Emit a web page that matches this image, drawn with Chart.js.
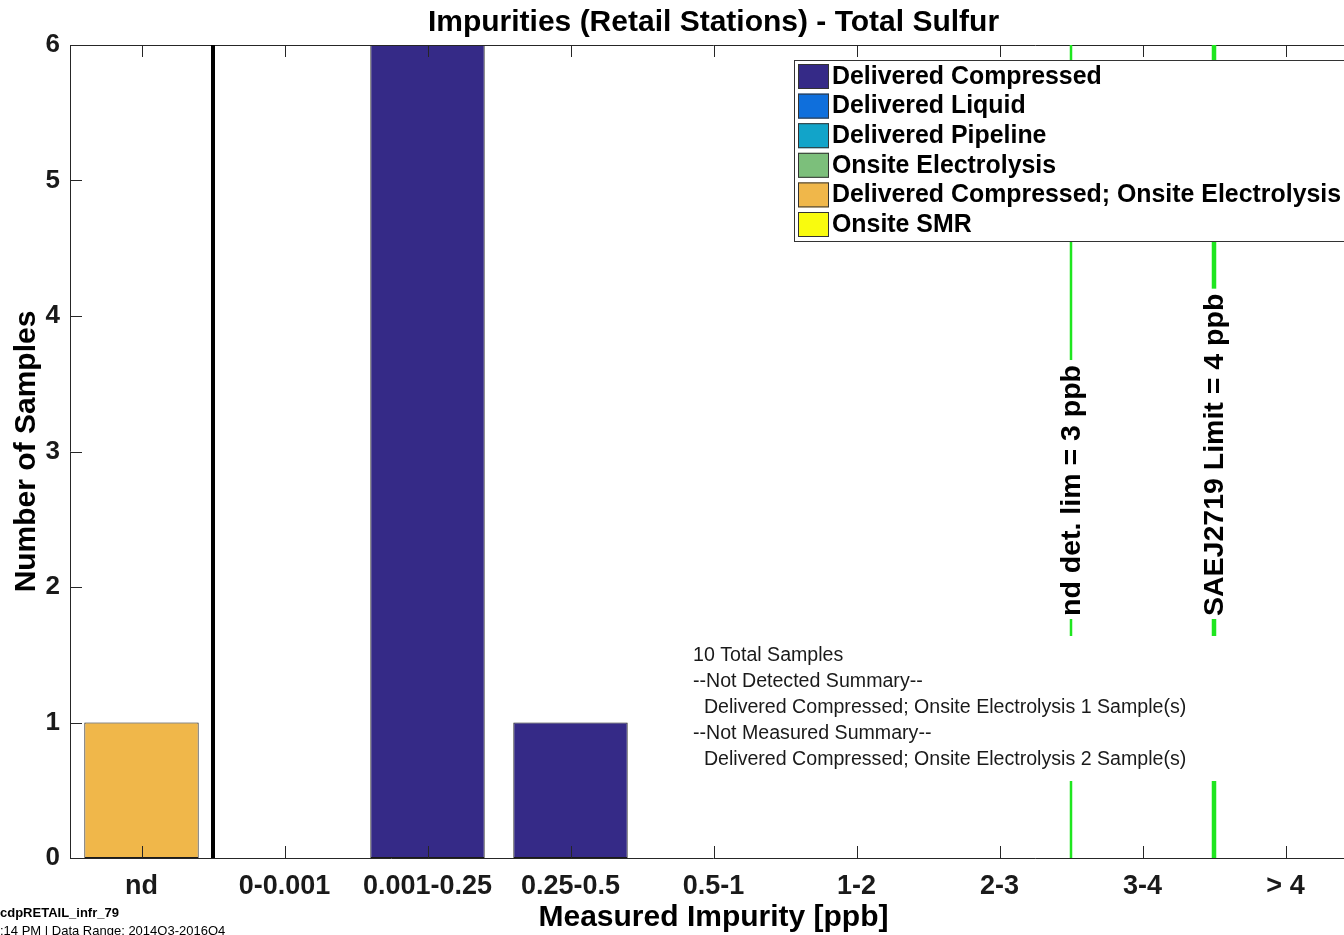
<!DOCTYPE html>
<html>
<head>
<meta charset="utf-8">
<script src="https://cdn.jsdelivr.net/npm/chart.js@4.4.1/dist/chart.umd.min.js"></script>
<style>
html,body{margin:0;padding:0;background:#fff;overflow:hidden;}
#wrap{position:relative;width:1360px;height:935px;}
</style>
</head>
<body>
<div id="wrap"><canvas id="c" width="1360" height="935"></canvas></div>
<script>
const categories = ['nd', '0-0.001', '0.001-0.25', '0.25-0.5', '0.5-1', '1-2', '2-3', '3-4', '> 4'];
const seriesNames = ['Delivered Compressed', 'Delivered Liquid', 'Delivered Pipeline', 'Onsite Electrolysis', 'Delivered Compressed; Onsite Electrolysis', 'Onsite SMR'];
const seriesColors = ['#352a87', '#0f6fdc', '#12a4c9', '#7cbf7b', '#f0b74a', '#f9fb0e'];
const deliveredCompressed = [0, 0, 6, 1, 0, 0, 0, 0, 0];
const deliveredLiquid = [0, 0, 0, 0, 0, 0, 0, 0, 0];
const deliveredPipeline = [0, 0, 0, 0, 0, 0, 0, 0, 0];
const onsiteElectrolysis = [0, 0, 0, 0, 0, 0, 0, 0, 0];
const deliveredCompressedOnsiteElectrolysis = [1, 0, 0, 0, 0, 0, 0, 0, 0];
const onsiteSMR = [0, 0, 0, 0, 0, 0, 0, 0, 0];
const yTicks = [0, 1, 2, 3, 4, 5, 6];
const refLineLabels = ['nd det. lim = 3 ppb', 'SAEJ2719 Limit = 4 ppb'];
const refLineAfterCategory = ['2-3', '3-4'];
const summaryLines = ['10 Total Samples', '--Not Detected Summary--', '  Delivered Compressed; Onsite Electrolysis 1 Sample(s)', '--Not Measured Summary--', '  Delivered Compressed; Onsite Electrolysis 2 Sample(s)'];
const chartTitle = 'Impurities (Retail Stations) - Total Sulfur';
const xTitle = 'Measured Impurity [ppb]';
const yTitle = 'Number of Samples';
const footer1 = 'cdpRETAIL_infr_79';
const footer2 = ':14 PM | Data Range: 2014Q3-2016Q4';

const seriesData = [deliveredCompressed, deliveredLiquid, deliveredPipeline, onsiteElectrolysis, deliveredCompressedOnsiteElectrolysis, onsiteSMR];
const FONT = "'Liberation Sans', Arial, sans-serif";

const decor = {
  id: 'decor',
  afterDraw(chart) {
    const ctx = chart.ctx;
    const xs = chart.scales.x, ys = chart.scales.y;
    const a = chart.chartArea;
    ctx.save();
    // axes box
    ctx.strokeStyle = '#262626';
    ctx.lineWidth = 1;
    ctx.beginPath();
    ctx.moveTo(a.left + 0.5, a.top + 0.5); ctx.lineTo(a.right, a.top + 0.5);
    ctx.moveTo(a.left + 0.5, a.top); ctx.lineTo(a.left + 0.5, a.bottom);
    ctx.moveTo(a.left, a.bottom + 0.5); ctx.lineTo(a.right, a.bottom + 0.5);
    ctx.moveTo(a.right - 0.5, a.top); ctx.lineTo(a.right - 0.5, a.bottom);
    ctx.stroke();
    // tick marks (inward)
    ctx.beginPath();
    categories.forEach((c, i) => {
      const x = Math.round(xs.getPixelForValue(i)) + 0.5;
      ctx.moveTo(x, a.bottom); ctx.lineTo(x, a.bottom - 12);
      ctx.moveTo(x, a.top); ctx.lineTo(x, a.top + 12);
    });
    yTicks.forEach(v => {
      const y = Math.round(ys.getPixelForValue(v)) + 0.5;
      ctx.moveTo(a.left, y); ctx.lineTo(a.left + 12, y);
    });
    ctx.stroke();
    // black separator between nd and measured
    const xSep = (xs.getPixelForValue(0) + xs.getPixelForValue(1)) / 2;
    ctx.strokeStyle = '#000';
    ctx.lineWidth = 4;
    ctx.beginPath(); ctx.moveTo(xSep, a.top); ctx.lineTo(xSep, a.bottom); ctx.stroke();

    // green reference lines
    const widths = [2.5, 4.5];
    const refX = refLineAfterCategory.map(c => {
      const i = categories.indexOf(c);
      return (xs.getPixelForValue(i) + xs.getPixelForValue(i + 1)) / 2;
    });
    refX.forEach((x, k) => {
      ctx.strokeStyle = '#1fe61f';
      ctx.lineWidth = widths[k];
      ctx.beginPath(); ctx.moveTo(x, a.top); ctx.lineTo(x, a.bottom); ctx.stroke();
    });
    // rotated labels with white background
    ctx.font = 'bold 28.5px ' + FONT;
    refX.forEach((x, k) => {
      const txt = refLineLabels[k];
      const w = ctx.measureText(txt).width;
      const yBottom = 618;
      ctx.save();
      ctx.translate(x, yBottom);
      ctx.rotate(-Math.PI / 2);
      ctx.fillStyle = '#fff';
      ctx.fillRect(-1, -16, w + 8, 32);
      ctx.fillStyle = '#000';
      ctx.textAlign = 'left';
      ctx.textBaseline = 'middle';
      ctx.fillText(txt, 2, 1);
      ctx.restore();
    });

    // summary text box
    ctx.fillStyle = '#fff';
    ctx.fillRect(688, 636, 545, 145);
    ctx.fillStyle = '#1a1a1a';
    ctx.font = '19.6px ' + FONT;
    ctx.textAlign = 'left';
    ctx.textBaseline = 'middle';
    summaryLines.forEach((t, i) => {
      ctx.fillText(t, 693, 656 + i * 26);
    });

    // legend
    const lx = 794, ly = 60, lw = 600, lh = 181;
    ctx.fillStyle = '#fff';
    ctx.fillRect(lx, ly, lw, lh);
    ctx.strokeStyle = '#333';
    ctx.lineWidth = 1;
    ctx.strokeRect(lx + 0.5, ly + 0.5, lw, lh);
    ctx.font = 'bold 24.9px ' + FONT;
    seriesNames.forEach((n, i) => {
      const cy = 76 + i * 29.6;
      ctx.fillStyle = seriesColors[i];
      ctx.fillRect(798, cy - 12, 31, 25);
      ctx.strokeStyle = '#333';
      ctx.strokeRect(798.5, cy - 11.5, 30, 24);
      ctx.fillStyle = '#000';
      ctx.fillText(n, 832, cy + 1);
    });

    // titles
    ctx.fillStyle = '#000';
    ctx.textAlign = 'center';
    ctx.font = 'bold 30px ' + FONT;
    ctx.fillText(chartTitle, (a.left + a.right) / 2, 23);
    ctx.font = 'bold 30px ' + FONT;
    ctx.fillText(xTitle, (a.left + a.right) / 2, 918);
    ctx.save();
    ctx.translate(27, (a.top + a.bottom) / 2);
    ctx.rotate(-Math.PI / 2);
    ctx.fillText(yTitle, 0, 0);
    ctx.restore();

    // footer
    ctx.textAlign = 'left';
    ctx.font = 'bold 13px ' + FONT;
    ctx.fillText(footer1, 0, 913);
    ctx.font = '13px ' + FONT;
    ctx.fillText(footer2, 0, 931);
    ctx.restore();
  }
};

new Chart(document.getElementById('c'), {
  type: 'bar',
  data: {
    labels: categories,
    datasets: seriesNames.map((n, i) => ({
      label: n,
      data: seriesData[i],
      backgroundColor: seriesColors[i],
      borderColor: '#1a1a1a',
      borderWidth: 1,
      borderSkipped: false,
      barPercentage: 0.8,
      categoryPercentage: 1.0
    }))
  },
  options: {
    responsive: false,
    animation: false,
    events: [],
    layout: { padding: { top: 45, right: 3, left: 0, bottom: 0 } },
    plugins: { legend: { display: false }, title: { display: false }, tooltip: { enabled: false } },
    scales: {
      x: {
        stacked: true,
        offset: true,
        grid: { display: false, drawTicks: false },
        border: { display: false },
        ticks: { color: '#1a1a1a', font: { family: FONT, size: 27, weight: 'bold' }, padding: 12, maxRotation: 0, autoSkip: false },
        afterFit(s) { s.height = 77; }
      },
      y: {
        stacked: true,
        min: 0, max: 6,
        grid: { display: false, drawTicks: false },
        border: { display: false },
        ticks: { stepSize: 1, color: '#1a1a1a', font: { family: FONT, size: 26, weight: 'bold' }, padding: 10,
          callback: (v) => yTicks.includes(v) ? String(v) : '' },
        afterFit(s) { s.width = 70; }
      }
    }
  },
  plugins: [decor]
});
</script>
</body>
</html>
